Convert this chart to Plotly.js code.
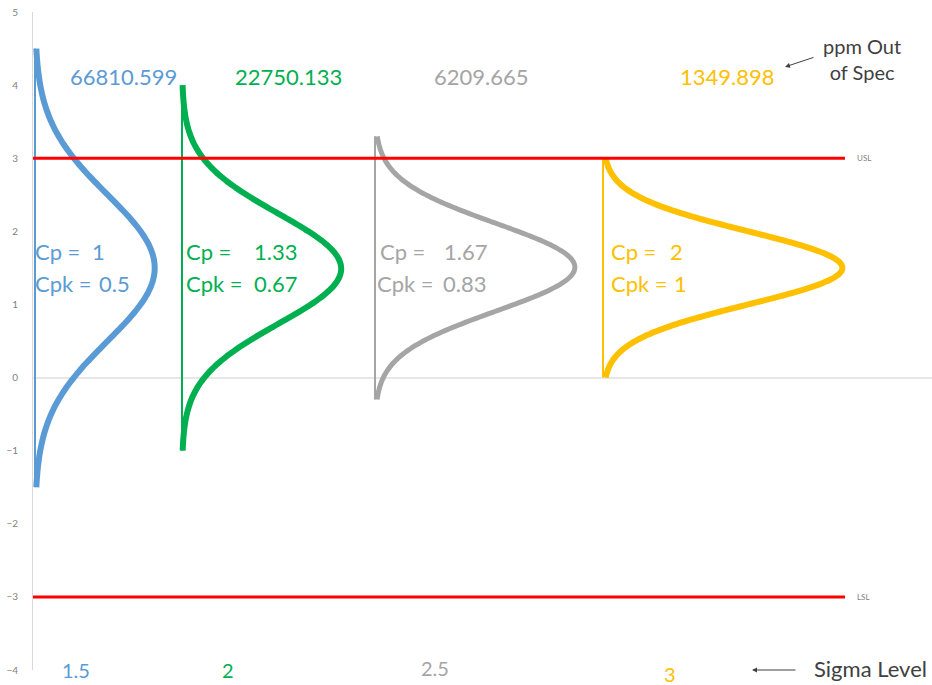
<!DOCTYPE html>
<html>
<head>
<meta charset="utf-8">
<script src="https://cdn.plot.ly/plotly-3.0.1.min.js"></script>
<style>
  html, body { margin: 0; padding: 0; background: #fff; }
  #chart { width: 932px; height: 685px; }
</style>
</head>
<body>
<div id="chart"></div>
<script>
// Process capability at four sigma levels: each curve is a normal density
// laid on its side, sized from Cp (sigma) and Cpk (mean) against the spec limits.
const sigmaLevels = ['1.5', '2', '2.5', '3'];
const cpValues    = [1, 1.33, 1.67, 2];
const cpkValues   = [0.5, 0.67, 0.83, 1];
const cpLabels    = ['1', '1.33', '1.67', '2'];
const cpkLabels   = ['0.5', '0.67', '0.83', '1'];
const ppmOut      = ['66810.599', '22750.133', '6209.665', '1349.898'];
const curveLow    = [-1.5, -1.0, -0.3, 0.0];
const curveHigh   = [4.5, 4.0, 3.3, 3.0];
const USL = 3;
const LSL = -3;

// styling / placement (horizontal axis is in pixels from the plot's left edge)
const colors   = ['#5B9BD5', '#00B050', '#A5A5A5', '#FFC000'];
const baseX    = [2, 149, 342, 570];       // vertical baseline of each curve
const widthPx  = 300;                       // pixels per unit of density
const specEnd  = 812;
const FONT = 'Lato, "Open Sans", sans-serif';

function pxY(py) { return (377.6 - py) / 73.1; }
function paperY(py) { return 1 - (py - 12) / 658; }

const traces = [];
sigmaLevels.forEach((lvl, i) => {
  const sigma = (USL - LSL) / (6 * cpValues[i]);
  const mean = USL - 3 * sigma * cpkValues[i];
  const ys = [], xs = [];
  const n = 160;
  for (let k = 0; k <= n; k++) {
    const y = curveLow[i] + (curveHigh[i] - curveLow[i]) * k / n;
    const z = (y - mean) / sigma;
    const pdf = Math.exp(-0.5 * z * z) / (sigma * Math.sqrt(2 * Math.PI));
    ys.push(y);
    xs.push(baseX[i] + widthPx * pdf);
  }
  // baseline
  traces.push({
    type: 'scatter', mode: 'lines', hoverinfo: 'skip', showlegend: false,
    x: [baseX[i], baseX[i]], y: [curveLow[i], curveHigh[i]],
    line: { color: colors[i], width: 2 }
  });
  // density curve
  traces.push({
    type: 'scatter', mode: 'lines', hoverinfo: 'skip', showlegend: false,
    x: xs, y: ys,
    line: { color: colors[i], width: i === 2 ? 5 : 6, shape: 'spline' }
  });
});

// spec limits
[USL, LSL].forEach(v => {
  traces.push({
    type: 'scatter', mode: 'lines', hoverinfo: 'skip', showlegend: false,
    x: [0, specEnd], y: [v, v],
    line: { color: '#FF0000', width: 3 }
  });
});

const annotations = [];
const ppmX   = [35, 200, 399, 645];
const sigX   = [43, 195, 402, 637];
const sigY   = [670, 670, 668, 674];
const cpX    = [0, 151, 345, 576];
const cpkX   = [0, 151, 342, 576];
const cpValX = [[57, 219, 409, 635], [64, 219, 408, 639]];
sigmaLevels.forEach((lvl, i) => {
  annotations.push({
    x: ppmX[i], y: pxY(77), xref: 'x', yref: 'y', text: ppmOut[i], showarrow: false,
    xanchor: 'left', yanchor: 'middle', font: { family: FONT, size: 22, color: colors[i] }
  });
  annotations.push({
    x: sigX[i], y: paperY(sigY[i]), xref: 'x', yref: 'paper', text: lvl, showarrow: false,
    xanchor: 'center', yanchor: 'middle', font: { family: FONT, size: 20, color: colors[i] }
  });
  annotations.push({
    x: cpX[i], y: pxY(252), xref: 'x', yref: 'y', text: 'Cp =', showarrow: false,
    xanchor: 'left', yanchor: 'middle', font: { family: FONT, size: 22, color: colors[i] }
  });
  annotations.push({
    x: cpValX[0][i], y: pxY(252), xref: 'x', yref: 'y', text: cpLabels[i], showarrow: false,
    xanchor: 'left', yanchor: 'middle', font: { family: FONT, size: 22, color: colors[i] }
  });
  annotations.push({
    x: cpkX[i], y: pxY(284), xref: 'x', yref: 'y', text: 'Cpk =', showarrow: false,
    xanchor: 'left', yanchor: 'middle', font: { family: FONT, size: 22, color: colors[i] }
  });
  annotations.push({
    x: cpValX[1][i], y: pxY(284), xref: 'x', yref: 'y', text: cpkLabels[i], showarrow: false,
    xanchor: 'left', yanchor: 'middle', font: { family: FONT, size: 22, color: colors[i] }
  });
});

// spec limit labels
annotations.push({ x: 822, y: USL, xref: 'x', yref: 'y', text: 'USL', showarrow: false,
  xanchor: 'left', yanchor: 'middle', font: { family: FONT, size: 8, color: '#7f7f7f' } });
annotations.push({ x: 822, y: LSL, xref: 'x', yref: 'y', text: 'LSL', showarrow: false,
  xanchor: 'left', yanchor: 'middle', font: { family: FONT, size: 8, color: '#7f7f7f' } });

// callouts
annotations.push({ x: 829, y: pxY(59), xref: 'x', yref: 'y', text: 'ppm Out<br>of Spec',
  showarrow: false, xanchor: 'center', yanchor: 'middle', align: 'center',
  font: { family: FONT, size: 20, color: '#404040' } });
annotations.push({ x: 752, y: pxY(67), xref: 'x', yref: 'y', text: '', showarrow: true,
  ax: 30, ay: -10, arrowhead: 2, arrowsize: 1, arrowwidth: 1, arrowcolor: '#404040' });
annotations.push({ x: 837, y: paperY(668), xref: 'x', yref: 'paper', text: 'Sigma Level',
  showarrow: false, xanchor: 'center', yanchor: 'middle',
  font: { family: FONT, size: 22, color: '#404040' } });
annotations.push({ x: 719, y: paperY(670), xref: 'x', yref: 'paper', text: '', showarrow: true,
  ax: 45, ay: 0, arrowhead: 2, arrowsize: 1, arrowwidth: 1, arrowcolor: '#404040' });

const layout = {
  width: 932, height: 685,
  margin: { l: 33, r: 0, t: 12, b: 15 },
  paper_bgcolor: '#ffffff', plot_bgcolor: '#ffffff',
  showlegend: false,
  xaxis: { range: [0, 899], visible: false, fixedrange: true },
  yaxis: {
    range: [-4, 5], dtick: 1, tick0: 0, showgrid: false,
    zeroline: true, zerolinecolor: '#e6e6e6', zerolinewidth: 2,
    showline: true, linecolor: '#d9d9d9', linewidth: 1,
    ticks: '', ticklabelstandoff: 12,
    tickfont: { family: FONT, size: 10, color: '#7f7f7f' }, fixedrange: true
  },
  annotations: annotations
};

Plotly.newPlot('chart', traces, layout, { displayModeBar: false, staticPlot: true });
</script>
</body>
</html>
